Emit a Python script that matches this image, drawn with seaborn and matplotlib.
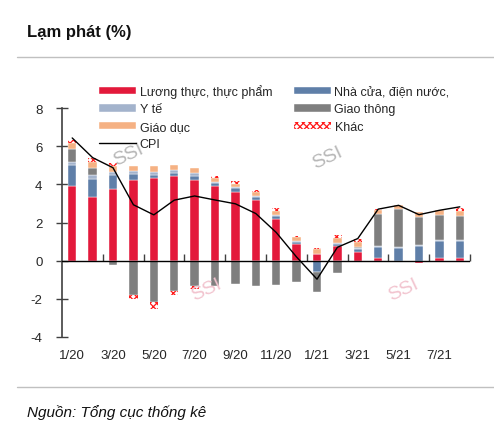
import numpy as np
import matplotlib
matplotlib.use("Agg")
import matplotlib.pyplot as plt
from matplotlib import font_manager
from matplotlib.lines import Line2D
import seaborn as sns

months = ["1/20", "2/20", "3/20", "4/20", "5/20", "6/20", "7/20", "8/20", "9/20", "10/20",
          "11/20", "12/20", "1/21", "2/21", "3/21", "4/21", "5/21", "6/21", "7/21", "8/21"]
food = [3.93, 3.35, 3.74, 4.24, 4.35, 4.45, 4.24, 3.93, 3.61, 3.17,
        2.19, 0.89, 0.33, 0.77, 0.44, 0.15, -0.02, -0.12, 0.15, 0.15]
housing = [1.08, 0.95, 0.76, 0.30, 0.14, 0.14, 0.20, 0.12, 0.20, 0.18,
           0.14, 0.09, -0.62, 0.12, 0.17, 0.58, 0.68, 0.79, 0.90, 0.90]
health = [0.16, 0.17, 0.13, 0.16, 0.17, 0.16, 0.17, 0.05, 0.04, 0.05,
          0.07, 0.05, 0.02, 0.03, 0.06, 0.04, 0.04, 0.05, 0.04, 0.04]
transport = [0.70, 0.40, -0.25, -1.81, -2.19, -1.60, -1.32, -1.32, -1.21, -1.32,
             -1.28, -1.12, -1.01, -0.63, 0.03, 1.67, 2.00, 1.44, 1.28, 1.27]
education = [0.31, 0.32, 0.35, 0.28, 0.28, 0.28, 0.26, 0.21, 0.16, 0.21,
             0.21, 0.23, 0.28, 0.25, 0.28, 0.24, 0.21, 0.25, 0.26, 0.26]
other = [0.15, 0.18, 0.12, -0.20, -0.32, -0.20, -0.15, 0.14, 0.16, 0.11,
         0.13, 0.05, 0.03, 0.17, 0.13, 0.02, -0.06, 0.02, 0.05, 0.12]
cpi = [6.43, 5.40, 4.87, 2.93, 2.40, 3.17, 3.39, 3.18, 2.98, 2.47,
       1.48, 0.19, -0.97, 0.70, 1.16, 2.70, 2.90, 2.41, 2.64, 2.82]

tick_labels = months[::2][:10]

sns.set_theme(style="white")
installed = {f.name for f in font_manager.fontManager.ttflist}
base_font = "Liberation Sans Narrow" if "Liberation Sans Narrow" in installed else "Liberation Sans"
plt.rcParams["font.family"] = [base_font, "DejaVu Sans"]
plt.rcParams["hatch.color"] = "#ff1a1a"
plt.rcParams["hatch.linewidth"] = 0.9

fig = plt.figure(figsize=(4.94, 4.39), dpi=100)
ax = fig.add_axes([62 / 494, 1 - 338 / 439, (470 - 62) / 494, (338 - 109) / 439])

x = np.arange(len(months))
series = [
    ("Lương thực, thực phẩm", food, dict(color="#e3193b")),
    ("Nhà cửa, điện nước,", housing, dict(color="#5f7fa8")),
    ("Y tế", health, dict(color="#a3b3cc")),
    ("Giao thông", transport, dict(color="#7f7f7f")),
    ("Giáo dục", education, dict(color="#f5b183")),
    ("Khác", other, dict(facecolor="white", hatch="xxxxx", edgecolor="#ff1a1a", linewidth=0)),
]

pos_bottom = np.zeros(len(x))
neg_bottom = np.zeros(len(x))
handles = {}
for name, vals, style in series:
    vals = np.array(vals)
    bottom = np.where(vals >= 0, pos_bottom, neg_bottom)
    kw = dict(style)
    if "linewidth" not in kw:
        kw.update(edgecolor="white", linewidth=0.3)
    bars = ax.bar(x, vals, bottom=bottom, width=0.42, label=name, zorder=2, **kw)
    handles[name] = bars
    pos_bottom = pos_bottom + np.where(vals >= 0, vals, 0)
    neg_bottom = neg_bottom + np.where(vals < 0, vals, 0)

sns.lineplot(x=x, y=cpi, ax=ax, color="black", linewidth=1.0, zorder=4, label="CPI")

ax.axhline(0, color="black", linewidth=1.0, zorder=3)
ax.set_xlim(-0.5, 19.5)
ax.set_ylim(-4, 8)
ax.set_yticks(np.arange(-4, 9, 2))
ax.set_yticklabels([str(v) for v in range(-4, 9, 2)], fontsize=9.5)
ax.tick_params(axis="y", direction="inout", length=8, width=1, color="#404040", pad=10, left=True)

for side in ["top", "right"]:
    ax.spines[side].set_visible(False)
ax.spines["left"].set_color("#404040")
ax.spines["left"].set_linewidth(1.2)
ax.spines["bottom"].set_position(("data", 0))
ax.spines["bottom"].set_visible(False)
ax.set_xticks(np.arange(1.5, 20, 2))
ax.set_xticklabels([])
ax.tick_params(axis="x", direction="in", length=5, width=1, color="#404040", bottom=True)

sec = ax.secondary_xaxis("bottom")
sec.set_xticks(x[::2][:10])
sec.set_xticklabels(tick_labels, fontsize=9.5)
sec.tick_params(length=0, pad=9)
sec.spines["bottom"].set_visible(False)

order = ["Lương thực, thực phẩm", "Y tế", "Giáo dục", "CPI",
         "Nhà cửa, điện nước,", "Giao thông", "Khác"]
line_handle = Line2D([0], [0], color="black", linewidth=1.0)
hl = [line_handle if n == "CPI" else handles[n] for n in order]
fig.legend(hl, order, loc="upper left", bbox_to_anchor=(99 / 494, 1 - 85 / 439),
           ncol=2, frameon=False, fontsize=9, handlelength=2.95, handleheight=0.6,
           handletextpad=0.32, labelspacing=0.44, columnspacing=1.7, borderpad=0,
           borderaxespad=0)
if ax.get_legend() is not None:
    ax.get_legend().remove()

# watermarks
for wx, wy, col in [(128, 155, "#b8b8b8"), (327, 158, "#b8b8b8"),
                    (206, 290, "#f2c4cf"), (403, 290, "#f2c4cf")]:
    fig.text(wx / 494, 1 - wy / 439, "SSI", fontsize=14, color=col, rotation=25,
             ha="center", va="center", zorder=1)

fig.text(27 / 494, 1 - 33 / 439, "Lạm phát (%)", fontsize=12, fontweight="bold",
         ha="left", va="center", color="#111111")
fig.text(27 / 494, 1 - 413 / 439, "Nguồn: Tổng cục thống kê", fontsize=11, style="italic",
         ha="left", va="center", color="#111111")
for yy in [58, 388]:
    fig.add_artist(Line2D([17 / 494, 1], [1 - yy / 439, 1 - yy / 439],
                          color="#c0c0c0", linewidth=1.0, transform=fig.transFigure))

fig.savefig("out.png", dpi=100)
